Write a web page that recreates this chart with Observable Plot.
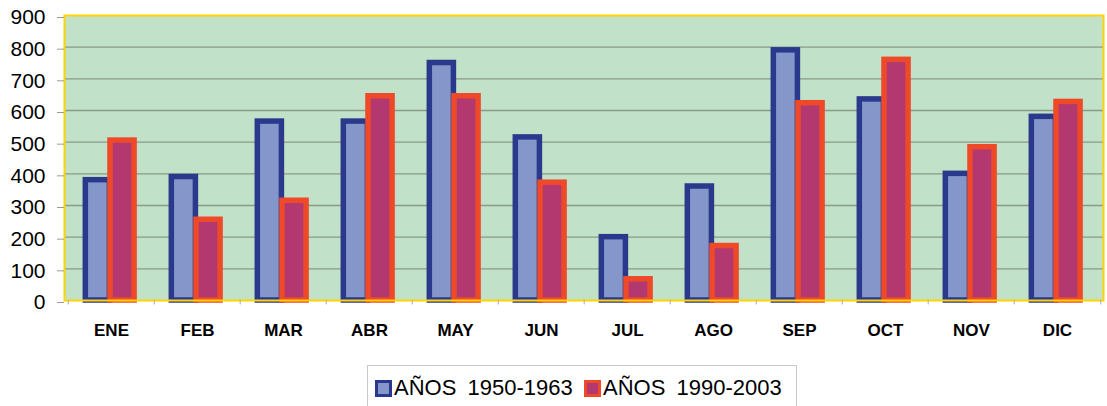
<!DOCTYPE html>
<html>
<head>
<meta charset="utf-8">
<script src="https://cdn.jsdelivr.net/npm/d3@7"></script>
<script src="https://cdn.jsdelivr.net/npm/@observablehq/plot@0.6"></script>
<style>
  html, body { margin: 0; padding: 0; background: #fff; }
  #wrap { position: relative; width: 1107px; height: 406px; overflow: hidden; font-family: "Liberation Sans", Arial, sans-serif; }
  #legend { position: absolute; left: 367px; top: 365px; width: 430px; height: 50px; border: 1px solid #c8c8c8; box-sizing: border-box; font-size: 22px; color: #000; white-space: nowrap; word-spacing: 5px; }
  .item { position: absolute; top: 9px; display: flex; align-items: center; }
  .sw { display: inline-block; width: 11px; height: 11px; border: 3.5px solid; margin-right: 2px; }
</style>
</head>
<body>
<div id="wrap">
  <div id="chart"></div>
  <div id="legend"></div>
</div>
<script>
const months = ["ENE","FEB","MAR","ABR","MAY","JUN","JUL","AGO","SEP","OCT","NOV","DIC"];
const seriesNames = ["AÑOS 1950-1963", "AÑOS 1990-2003"];
const values1950 = [380, 390, 565, 565, 750, 515, 200, 360, 790, 635, 400, 580];
const values1990 = [505, 255, 315, 645, 645, 372, 67, 172, 623, 760, 484, 627];
const yTicks = [0, 100, 200, 300, 400, 500, 600, 700, 800, 900];
const strokeColors = ["#2b398c", "#ee4a2a"];
const fillColors = ["#8596cb", "#b2386f"];

const W = 1107, ML = 64, MR = 4;
const bw = (W - ML - MR) / months.length;

const d1 = months.map((m, i) => ({month: m, value: values1950[i]}));
const d2 = months.map((m, i) => ({month: m, value: values1990[i]}));

const chart = Plot.plot({
  width: W,
  height: 360,
  marginLeft: ML,
  marginRight: MR,
  marginTop: 15,
  marginBottom: 60,
  style: {fontFamily: "'Liberation Sans', Arial, sans-serif", background: "transparent", overflow: "visible"},
  x: {domain: months, padding: 0, axis: null, label: null},
  y: {domain: [0, 900], axis: null, label: null},
  marks: [
    Plot.frame({fill: "#c1e1c8", stroke: "none"}),
    Plot.gridY(yTicks.slice(1, -1), {stroke: "#8a9a88", strokeOpacity: 1, strokeWidth: 1.3}),
    Plot.barY(d1, {x: "month", y: "value", fill: fillColors[0], stroke: strokeColors[0], strokeWidth: 5.5,
      insetLeft: bw * 0.2, insetRight: bw * (1 - 0.485)}),
    Plot.barY(d2, {x: "month", y: "value", fill: fillColors[1], stroke: strokeColors[1], strokeWidth: 5.5,
      insetLeft: bw * 0.485, insetRight: bw * (1 - 0.77)}),
    Plot.frame({stroke: "#ffd400", strokeWidth: 2}),
    Plot.ruleX(months, {x: d => d, dx: -bw / 2, y1: 0, y2: -14, stroke: "#aaaaaa"}),
    Plot.ruleX([months[months.length - 1]], {x: d => d, dx: bw / 2, y1: 0, y2: -14, stroke: "#aaaaaa"}),
    Plot.axisY(yTicks, {tickSize: 7, tickPadding: 12, fontSize: 21, stroke: "#999999", fill: "#000", dy: 2, label: null}),
    Plot.axisX({tickSize: 0, tickPadding: 23, fontSize: 17, fontWeight: "bold", fill: "#000", label: null})
  ]
});
document.getElementById("chart").appendChild(chart);

const legend = document.getElementById("legend");
const lefts = [7, 216];
seriesNames.forEach((name, i) => {
  const it = document.createElement("div");
  it.className = "item";
  it.style.left = lefts[i] + "px";
  const sw = document.createElement("span");
  sw.className = "sw";
  sw.style.borderColor = strokeColors[i];
  sw.style.background = fillColors[i];
  const tx = document.createElement("span");
  tx.textContent = name;
  it.appendChild(sw);
  it.appendChild(tx);
  legend.appendChild(it);
});
</script>
</body>
</html>
